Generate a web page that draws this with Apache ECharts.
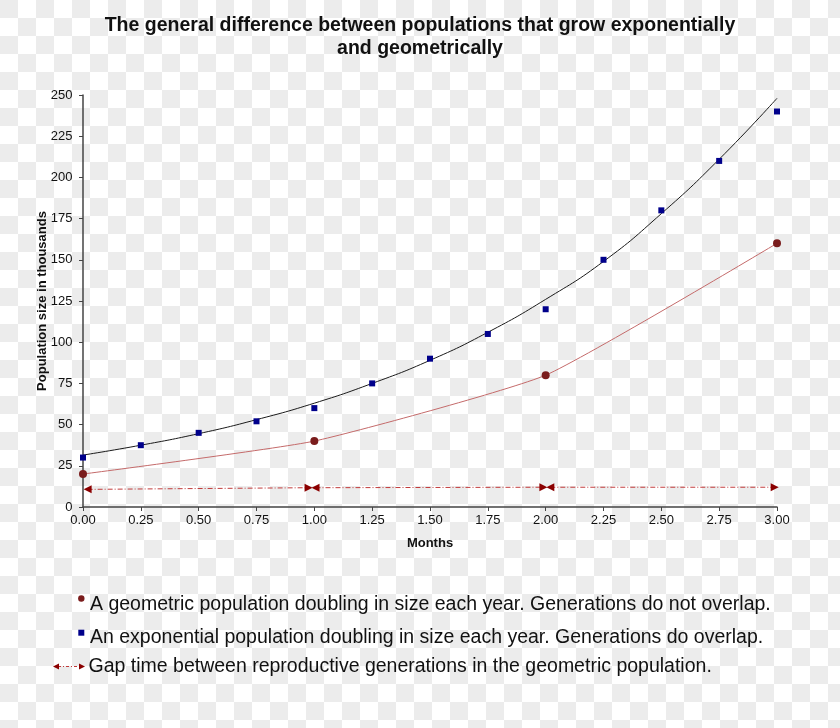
<!DOCTYPE html>
<html>
<head>
<meta charset="utf-8">
<script src="https://cdn.jsdelivr.net/npm/echarts@6/dist/echarts.min.js"></script>
<style>
html,body{margin:0;padding:0;}
body{width:840px;height:728px;background:repeating-conic-gradient(#ffffff 0% 25%, #ececec 0% 50%) 0 0 / 36px 36px;}
#chart{width:840px;height:728px;}
</style>
</head>
<body>
<div id="chart"></div>
<script>
// ---- data ----
const months = [0, 0.25, 0.5, 0.75, 1, 1.25, 1.5, 1.75, 2, 2.25, 2.5, 2.75, 3];
const exponentialPop = [30, 37.5, 45, 52, 60, 75, 90, 105, 120, 150, 180, 210, 240];
const trendCurve = [31.5, 37.5, 44.5, 53, 63, 75, 89, 106, 126, 149, 178, 211, 248];
const geoMonths = [0, 1, 2, 3];
const geometricPop = [20, 40, 80, 160];
const gapSegments = [
  [[0.02, 10.7], [0.975, 11.7]],
  [[1.005, 11.7], [1.99, 12]],
  [[2.02, 12], [2.99, 12]]
];
const yTicks = [0, 25, 50, 75, 100, 125, 150, 175, 200, 225, 250];
const titleText = 'The general difference between populations that grow exponentially\nand geometrically';
const legendTexts = [
  'A geometric population doubling in size each year. Generations do not overlap.',
  'An exponential population doubling in size each year. Generations do overlap.',
  'Gap time between reproductive generations in the geometric population.'
];

const FONT = '"Liberation Sans", Arial, Helvetica, sans-serif';
const chart = echarts.init(document.getElementById('chart'), null, {renderer: 'canvas'});

const series = [];
series.push({
  type: 'line', data: months.map((m, i) => [m, trendCurve[i]]), smooth: true,
  showSymbol: false, lineStyle: {color: '#1a1a1a', width: 1}, z: 2, silent: true
});
series.push({
  type: 'line', data: geoMonths.map((m, i) => [m, geometricPop[i]]), smooth: 0.15,
  symbol: 'circle', symbolSize: 8, itemStyle: {color: '#7a1c1c', opacity: 1},
  lineStyle: {color: '#c46a6a', width: 1}, z: 3
});
series.push({
  type: 'scatter', data: months.map((m, i) => [m, exponentialPop[i]]),
  symbol: 'rect', symbolSize: 6, itemStyle: {color: '#00008b', opacity: 1}, z: 4
});
gapSegments.forEach(seg => {
  series.push({
    type: 'line', data: seg, showSymbol: false,
    lineStyle: {color: '#c03a3a', width: 1, type: [5, 2, 1, 2]}, z: 3, silent: true
  });
  series.push({
    type: 'scatter', data: [seg[0]], symbol: 'triangle', symbolSize: [8, 8],
    symbolRotate: 90, itemStyle: {color: '#8b0000', opacity: 1}, z: 4
  });
  series.push({
    type: 'scatter', data: [seg[1]], symbol: 'triangle', symbolSize: [8, 8],
    symbolRotate: -90, itemStyle: {color: '#8b0000', opacity: 1}, z: 4
  });
});

const axisCommon = {
  axisLine: {show: true, lineStyle: {color: '#444', width: 1.5}},
  axisTick: {show: true, length: 4, inside: false, lineStyle: {color: '#444', width: 1}},
  splitLine: {show: false},
  axisLabel: {color: '#111', fontSize: 13, fontFamily: FONT},
  nameTextStyle: {color: '#111', fontSize: 13, fontWeight: 'bold', fontFamily: FONT},
  nameMoveOverlap: false
};

const legendFont = '19.5px ' + FONT;
const graphics = [
  {type: 'text', x: 420, y: 14, style: {text: titleText, font: 'bold 19.5px ' + FONT, fill: '#111', align: 'center', lineHeight: 23}},
  {type: 'circle', shape: {cx: 81.3, cy: 598.5, r: 3.2}, style: {fill: '#7a1c1c'}},
  {type: 'text', x: 90, y: 594.5, style: {text: legendTexts[0], font: legendFont, fill: '#111'}},
  {type: 'rect', shape: {x: 78.3, y: 629.7, width: 6, height: 6}, style: {fill: '#00008b'}},
  {type: 'text', x: 90, y: 627.5, style: {text: legendTexts[1], font: legendFont, fill: '#111'}},
  {type: 'line', shape: {x1: 58, y1: 666.5, x2: 80, y2: 666.5}, style: {stroke: '#c03a3a', lineWidth: 1, lineDash: [3, 2, 1, 2]}},
  {type: 'polygon', shape: {points: [[53, 666.5], [59, 663.5], [59, 669.5]]}, style: {fill: '#8b0000'}},
  {type: 'polygon', shape: {points: [[85, 666.5], [79, 663.5], [79, 669.5]]}, style: {fill: '#8b0000'}},
  {type: 'text', x: 88.5, y: 657, style: {text: legendTexts[2], font: legendFont, fill: '#111'}}
];

chart.setOption({
  backgroundColor: 'transparent',
  animation: false,
  grid: {left: 83, top: 95, width: 694, height: 412, containLabel: false},
  xAxis: Object.assign({}, axisCommon, {
    type: 'value', min: 0, max: 3, interval: 0.25,
    name: 'Months', nameLocation: 'middle', nameGap: 30,
    axisLabel: Object.assign({}, axisCommon.axisLabel, {formatter: v => v.toFixed(2), margin: 7})
  }),
  yAxis: Object.assign({}, axisCommon, {
    type: 'value', min: yTicks[0], max: yTicks[yTicks.length - 1], interval: 25,
    name: 'Population size in thousands', nameLocation: 'middle', nameGap: 34, nameRotate: 90,
    axisLabel: Object.assign({}, axisCommon.axisLabel, {margin: 10.5})
  }),
  series: series,
  graphic: graphics
});
</script>
</body>
</html>
